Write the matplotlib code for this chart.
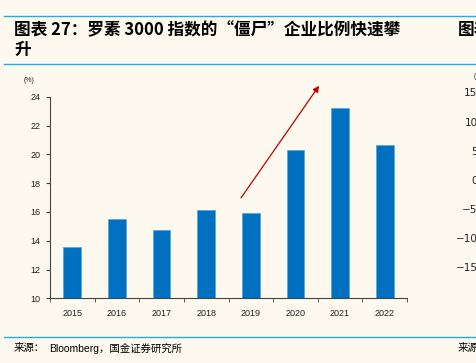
import matplotlib
matplotlib.use("Agg")
import matplotlib.pyplot as plt
from matplotlib.lines import Line2D

plt.rcParams['font.family'] = ['Liberation Sans', 'Noto Sans CJK SC', 'DejaVu Sans']

years = ['2015', '2016', '2017', '2018', '2019', '2020', '2021', '2022']
zombie_pct = [13.56, 15.53, 14.77, 16.13, 15.93, 20.3, 23.19, 20.65]
y_ticks = [10, 12, 14, 16, 18, 20, 22, 24]
right_panel_ticks = ['15', '10', '5', '0', '\u22125', '\u221210', '\u221215']

bg = '#FDF9EF'
bar_color = '#0070C0'
line_color = '#29A9E1'

fig = plt.figure(figsize=(4.77, 3.63), dpi=100, facecolor=bg)
W, H = 477, 363

def fx(px):
    return px / W

def fy(py):
    return 1 - py / H

ax = fig.add_axes([fx(50), fy(298.3), fx(407) - fx(50), fy(96.7) - fy(298.3)])
ax.set_facecolor(bg)
x = list(range(len(years)))
ax.bar(x, zombie_pct, width=0.4, color=bar_color, edgecolor='#5AA6DC', linewidth=0.6, zorder=3)
ax.set_xlim(-0.5, len(years) - 0.5)
ax.set_ylim(10, 24)
ax.set_yticks(y_ticks)
ax.set_yticklabels([str(v) for v in y_ticks], fontsize=6.5, color='#222222')
ax.set_xticks(x)
ax.set_xticklabels(years, fontsize=6.5, color='#222222')
ax.tick_params(axis='x', length=0, pad=8)
ax.set_xticks([i - 0.5 for i in range(len(years) + 1)], minor=True)
ax.tick_params(axis='x', which='minor', length=3, direction='out', color='#444444')
ax.tick_params(axis='y', length=3, direction='out', color='#444444', pad=4)
for s in ['top', 'right']:
    ax.spines[s].set_visible(False)
for s in ['left', 'bottom']:
    ax.spines[s].set_color('#444444')
    ax.spines[s].set_linewidth(0.8)

ax.annotate('', xy=(5.53, 24.76), xytext=(3.78, 16.97), xycoords='data',
            annotation_clip=False,
            arrowprops=dict(arrowstyle='-|>', color='#C00000', lw=0.9,
                            mutation_scale=9, shrinkA=0, shrinkB=0))

fig.text(fx(29), fy(80), '(%)', fontsize=5, ha='center', va='center', color='#222222')

# rule lines
for yy in (16, 64.3, 337.3):
    fig.add_artist(Line2D([fx(4), 1.0], [fy(yy), fy(yy)], color=line_color, lw=1.0))

cjk = ['Noto Sans CJK SC', 'DejaVu Sans']
fig.text(fx(14), fy(30), '图表 27：罗素 3000 指数的“僵尸”企业比例快速攀',
         fontsize=12, fontweight='bold', ha='left', va='center', family=cjk)
fig.text(fx(14), fy(50), '升', fontsize=12, fontweight='bold', ha='left', va='center',
         family=cjk)
fig.text(fx(458), fy(30), '图表', fontsize=12, fontweight='bold', ha='left', va='center',
         family=cjk)

fig.text(fx(14), fy(348), '来源：', fontsize=7.5, ha='left', va='center',
         family=['Noto Sans CJK SC'])
fig.text(fx(49), fy(348), 'Bloomberg，国金证券研究所', fontsize=7.5, ha='left', va='center',
         family=['Liberation Sans', 'Noto Sans CJK SC'])
fig.text(fx(458), fy(348), '来源', fontsize=7.5, ha='left', va='center',
         family=['Noto Sans CJK SC'])

# partial right panel tick labels
right_y = [93, 122.7, 152, 181, 210, 239.5, 268]
for lab, yy in zip(right_panel_ticks, right_y):
    fig.text(fx(477.5), fy(yy), lab, fontsize=7.5, ha='right', va='center', color='#222222',
             family=['DejaVu Sans'])
fig.text(fx(474), fy(77), '(', fontsize=5, ha='left', va='center', color='#222222')

fig.savefig('out.png', dpi=100, facecolor=bg)
